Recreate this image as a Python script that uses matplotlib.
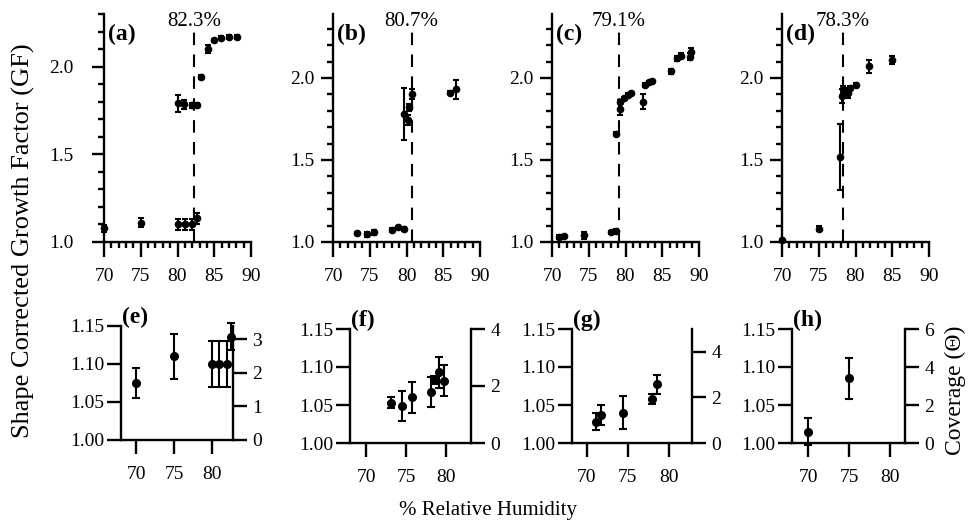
import numpy as np
import matplotlib.pyplot as plt
from matplotlib.ticker import MultipleLocator, FormatStrFormatter

plt.rcParams['font.family'] = ['Liberation Serif', 'DejaVu Serif']
plt.rcParams['font.size'] = 14

# ---- top row: growth factor vs RH ----
a_rh = [70.0, 75.0, 80.0, 81.0, 82.0, 82.6, 80.0, 80.9, 82.0, 82.7, 83.2, 84.1, 85.0, 85.9, 87.0, 88.1]
a_gf = [1.078, 1.11, 1.10, 1.10, 1.10, 1.135, 1.79, 1.785, 1.78, 1.78, 1.94, 2.10, 2.15, 2.165, 2.17, 2.17]
a_err = [0.02, 0.025, 0.033, 0.033, 0.033, 0.03, 0.05, 0.025, 0.015, 0.01, 0.012, 0.025, 0.01, 0.01, 0.012, 0.012]

b_rh = [73.3, 74.6, 75.6, 78.0, 78.9, 79.6, 79.6, 80.2, 80.4, 80.7, 85.9, 86.7]
b_gf = [1.053, 1.047, 1.06, 1.073, 1.09, 1.08, 1.78, 1.744, 1.82, 1.90, 1.91, 1.93]
b_err = [0.008, 0.015, 0.015, 0.015, 0.01, 0.012, 0.157, 0.03, 0.02, 0.03, 0.01, 0.06]

c_rh = [70.9, 71.6, 74.4, 78.0, 78.7, 78.7, 79.2, 79.3, 79.8, 80.3, 80.7, 82.4, 82.7, 83.2, 83.6, 86.2, 87.0, 87.5, 88.8, 88.9]
c_gf = [1.03, 1.035, 1.04, 1.06, 1.07, 1.66, 1.81, 1.855, 1.875, 1.896, 1.906, 1.855, 1.957, 1.974, 1.98, 2.04, 2.12, 2.135, 2.13, 2.16]
c_err = [0.01, 0.01, 0.02, 0.01, 0.01, 0.01, 0.035, 0.01, 0.01, 0.01, 0.01, 0.045, 0.01, 0.01, 0.01, 0.015, 0.015, 0.015, 0.02, 0.025]

d_rh = [70.0, 75.0, 77.9, 78.2, 78.3, 79.0, 79.3, 80.0, 81.9, 85.0]
d_gf = [1.01, 1.08, 1.52, 1.89, 1.93, 1.91, 1.94, 1.96, 2.07, 2.11]
d_err = [0.01, 0.015, 0.2, 0.045, 0.02, 0.03, 0.01, 0.01, 0.04, 0.025]

transitions = [82.3, 80.7, 79.1, 78.3]

# ---- bottom row: low RH branch, GF (left) and coverage (right) ----
e_rh = [70.0, 75.0, 80.0, 81.0, 82.0, 82.5]
e_gf = [1.075, 1.110, 1.100, 1.100, 1.100, 1.136]
e_err = [0.02, 0.03, 0.03, 0.03, 0.03, 0.018]

f_rh = [73.1, 74.5, 75.7, 78.1, 78.5, 79.1, 79.75]
f_gf = [1.053, 1.049, 1.060, 1.067, 1.083, 1.093, 1.082]
f_err = [0.0075, 0.02, 0.02, 0.02, 0.005, 0.02, 0.02]

g_rh = [71.1, 71.7, 74.4, 77.9, 78.5]
g_gf = [1.028, 1.037, 1.040, 1.058, 1.077]
g_err = [0.011, 0.013, 0.022, 0.0065, 0.013]

h_rh = [70.0, 75.0]
h_gf = [1.015, 1.085]
h_err = [0.018, 0.027]

cov_top = [3.4, 4, 5, 6]
cov_ticks = [[0, 1, 2, 3], [0, 2, 4], [0, 2, 4], [0, 2, 4, 6]]

W, H = 972., 527.
fig = plt.figure(figsize=(9.72, 5.27), dpi=100)

def px_axes(left, top, width, height):
    return fig.add_axes([left / W, 1 - (top + height) / H, width / W, height / H])

lw = 1.7
top_specs = [
    ('(a)', a_rh, a_gf, a_err, 104, 2.3, 13),
    ('(b)', b_rh, b_gf, b_err, 333, 2.39, 4),
    ('(c)', c_rh, c_gf, c_err, 552, 2.39, 4),
    ('(d)', d_rh, d_gf, d_err, 782, 2.39, 4),
]

for (lab, rh, gf, err, left, ytop, pad), trans in zip(top_specs, transitions):
    ax = px_axes(left, 14, 147, 228)
    ax.errorbar(rh, gf, yerr=err, fmt='o', color='black', ms=4.5,
                elinewidth=1.5, capsize=2.5, capthick=1.5, clip_on=False)
    ax.axvline(trans, ymin=0, ymax=0.92, color='black', lw=1.5, ls=(0, (6, 4.5)))
    ax.text(trans, 0.965, '%.1f%%' % trans, transform=ax.get_xaxis_transform(),
            ha='center', va='center', fontsize=15)
    ax.text(0.03, 0.955, lab, transform=ax.transAxes, ha='left', va='top',
            fontsize=17, fontweight='bold')
    ax.set_xlim(70, 90)
    ax.set_ylim(1.0, ytop)
    ax.spines['top'].set_visible(False)
    ax.spines['right'].set_visible(False)
    for s in ('left', 'bottom'):
        ax.spines[s].set_linewidth(lw)
    ax.xaxis.set_major_locator(MultipleLocator(5))
    ax.xaxis.set_minor_locator(MultipleLocator(1))
    ax.yaxis.set_major_locator(MultipleLocator(0.5))
    ax.yaxis.set_minor_locator(MultipleLocator(0.1))
    ax.yaxis.set_major_formatter(FormatStrFormatter('%.1f'))
    ax.tick_params(axis='x', which='major', length=11, width=lw, pad=8)
    ax.tick_params(axis='x', which='minor', length=4.5, width=lw)
    ax.tick_params(axis='y', which='major', length=9, width=lw, pad=pad)
    ax.tick_params(axis='y', which='minor', length=4.5, width=lw)

bot_specs = [
    ('(e)', e_rh, e_gf, e_err, 121, 326, 112, (68.0, 82.8)),
    ('(f)', f_rh, f_gf, f_err, 350, 329, 121, (68.0, 83.1)),
    ('(g)', g_rh, g_gf, g_err, 572, 329, 120, (68.2, 82.8)),
    ('(h)', h_rh, h_gf, h_err, 792, 329, 113, (68.0, 81.8)),
]

for (lab, rh, gf, err, left, top, width, xl), ctop, cticks in zip(bot_specs, cov_top, cov_ticks):
    ax = px_axes(left, top, width, 114)
    ax.errorbar(rh, gf, yerr=err, fmt='o', color='black', ms=5.5,
                elinewidth=1.5, capsize=3, capthick=1.5, clip_on=False)
    ax.set_xlim(*xl)
    ax.set_ylim(1.0, 1.15)
    ax.set_xticks([70, 75, 80])
    ax.set_yticks([1.00, 1.05, 1.10, 1.15])
    ax.yaxis.set_major_formatter(FormatStrFormatter('%.2f'))
    ax.spines['top'].set_visible(False)
    ax.spines['right'].set_visible(False)
    for s in ('left', 'bottom'):
        ax.spines[s].set_linewidth(lw)
    ax.tick_params(axis='x', length=10, width=lw, pad=9)
    ax.tick_params(axis='y', length=10, width=lw, pad=2)
    ax.text(0.01, 0.98, lab, transform=ax.transAxes, ha='left', va='bottom',
            fontsize=17, fontweight='bold')

    ax2 = ax.twinx()
    ax2.set_ylim(0, ctop)
    ax2.set_yticks(cticks)
    for s in ('top', 'left', 'bottom'):
        ax2.spines[s].set_visible(False)
    ax2.spines['right'].set_linewidth(lw)
    ax2.tick_params(axis='y', length=10, width=lw, pad=4)

fig.text(0.024, 0.543, 'Shape Corrected Growth Factor (GF)', rotation=90,
         ha='center', va='center', fontsize=19)
fig.text(0.502, 0.032, '% Relative Humidity', ha='center', va='center', fontsize=15)
fig.text(0.983, 0.26, 'Coverage (Θ)', rotation=90, ha='center', va='center', fontsize=17)

fig.savefig('out.png', dpi=100)
